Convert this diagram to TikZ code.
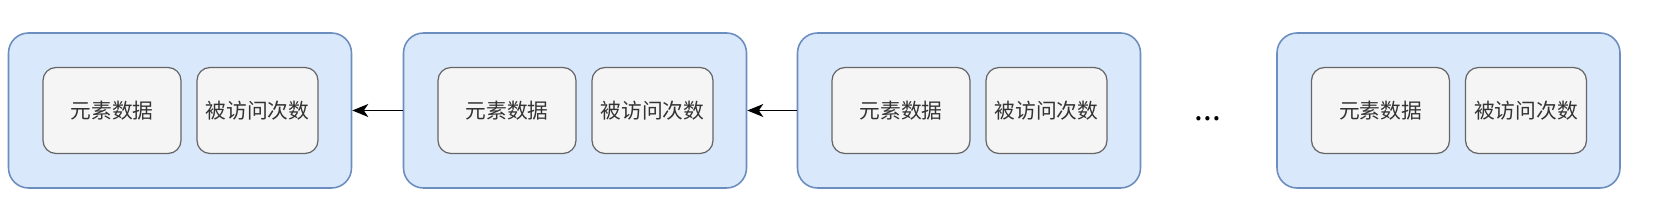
\documentclass[tikz,border=0pt]{standalone}
\usepackage{fontspec}
\usepackage{tikz}
\usetikzlibrary{arrows.meta}
\setmainfont{Noto Sans CJK SC}
\definecolor{blkfill}{HTML}{DAE8FC}
\definecolor{blkline}{HTML}{6C8EBF}
\definecolor{cellfill}{HTML}{F5F5F5}
\definecolor{cellline}{HTML}{666666}
\definecolor{celltext}{HTML}{333333}

\tikzset{
  blk/.style={draw=blkline,fill=blkfill,line width=0.9pt,rounded corners=0.4cm,
    minimum width=6.86cm,minimum height=3.1cm,inner sep=0pt},
  cell/.style={draw=cellline,fill=cellfill,line width=0.7pt,rounded corners=0.26cm,
    minimum height=1.72cm,inner sep=0pt,text=celltext,font=\fontsize{11.8}{13}\selectfont},
  link/.style={line width=0.8pt,-{Stealth[length=0.32cm,width=0.26cm,inset=0.09cm]}}
}

\begin{document}
\begin{tikzpicture}
  \useasboundingbox (0,0) rectangle (33.08,4.22);
  % outer blocks
  \node[blk] (blk1) at (3.60,2.01) {};
  \node[blk] (blk2) at (11.50,2.01) {};
  \node[blk] (blk3) at (19.38,2.01) {};
  \node[blk] (blk4) at (28.97,2.01) {};
  % cells
  \node[cell,minimum width=2.76cm] (dat1) at ([xshift=-1.36cm]blk1.center) {元素数据};
  \node[cell,minimum width=2.42cm] (cnt1) at ([xshift=1.55cm]blk1.center) {被访问次数};
  \node[cell,minimum width=2.76cm] (dat2) at ([xshift=-1.36cm]blk2.center) {元素数据};
  \node[cell,minimum width=2.42cm] (cnt2) at ([xshift=1.55cm]blk2.center) {被访问次数};
  \node[cell,minimum width=2.76cm] (dat3) at ([xshift=-1.36cm]blk3.center) {元素数据};
  \node[cell,minimum width=2.42cm] (cnt3) at ([xshift=1.55cm]blk3.center) {被访问次数};
  \node[cell,minimum width=2.76cm] (dat4) at ([xshift=-1.36cm]blk4.center) {元素数据};
  \node[cell,minimum width=2.42cm] (cnt4) at ([xshift=1.55cm]blk4.center) {被访问次数};
  % links
  \draw[link] (blk2.west) -- (blk1.east);
  \draw[link] (blk3.west) -- (blk2.east);
  \node[anchor=base,inner sep=0pt,font=\fontsize{18}{20}\selectfont] (dots) at (24.16,1.80) {...};
\end{tikzpicture}
\end{document}
